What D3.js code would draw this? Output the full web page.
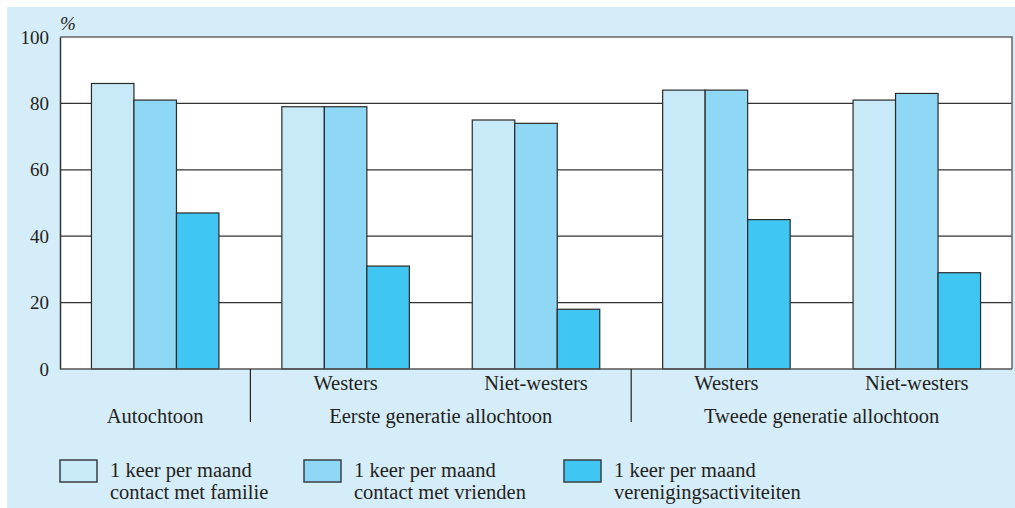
<!DOCTYPE html>
<html><head><meta charset="utf-8">
<script src="https://cdn.jsdelivr.net/npm/d3@7"></script>
<style>body{margin:0;background:#fff}svg{display:block}text{font-family:"Liberation Serif","Times New Roman",serif;fill:#231f20}</style>
</head><body>
<script>
const groups = ["Autochtoon","Westers 1","Niet-westers 1","Westers 2","Niet-westers 2"];
const subLabels = ["", "Westers", "Niet-westers", "Westers", "Niet-westers"];
const seriesNames = ["1 keer per maand|contact met familie","1 keer per maand|contact met vrienden","1 keer per maand|verenigingsactiviteiten"];
const familie = [86, 79, 75, 84, 81];
const vrienden = [81, 79, 74, 84, 83];
const vereniging = [47, 31, 18, 45, 29];
const yTicks = [0, 20, 40, 60, 80, 100];
const colors = ["#c8e9f8", "#8fd8f5", "#40c6f2"];
const superGroups = [{label:"Autochtoon", from:0, to:0},{label:"Eerste generatie allochtoon", from:1, to:2},{label:"Tweede generatie allochtoon", from:3, to:4}];

const W=1015,H=508;
const svg=d3.select("body").append("svg").attr("width",W).attr("height",H);
svg.append("rect").attr("x",7).attr("y",7).attr("width",W-7).attr("height",H-7).attr("fill","#d5ecf9");
const L=60,R=1012,T=37,B=369;
const x=d3.scaleBand().domain(groups).range([L,R]).padding(0);
const series=[familie,vrienden,vereniging];
const xi=d3.scaleBand().domain([0,1,2]).range([0,x.bandwidth()]).paddingOuter(0.74).paddingInner(0);
const y=d3.scaleLinear().domain([0,100]).range([B,T]);
svg.append("rect").attr("x",L).attr("y",T).attr("width",R-L).attr("height",B-T).attr("fill","#fff");
// grid
svg.append("g").selectAll("line").data(yTicks.filter(d=>d>0&&d<100)).join("line")
 .attr("x1",L).attr("x2",R).attr("y1",d=>y(d)).attr("y2",d=>y(d)).attr("stroke","#333").attr("stroke-width",1.2);
// frame top/right
svg.append("path").attr("d",`M${L},${y(100)}H${R}V${B}`).attr("fill","none").attr("stroke","#666").attr("stroke-width",1.5);
// bars
series.forEach((s,si)=>{
 svg.append("g").selectAll("rect").data(s).join("rect")
  .attr("x",(d,i)=>x(groups[i])+xi(si)).attr("y",d=>y(d)).attr("width",xi.bandwidth()).attr("height",d=>y(0)-y(d))
  .attr("fill",colors[si]).attr("stroke","#2a2a2a").attr("stroke-width",1.2);
});
// axes
const ya=d3.axisLeft(y).tickValues(yTicks).tickSize(0).tickPadding(11);
const g=svg.append("g").attr("transform",`translate(${L},0)`).call(ya);
g.select(".domain").attr("stroke","#333").attr("stroke-width",1.5);
g.selectAll("text").style("font-size","19px").style("font-family","'Liberation Serif',serif").attr("fill","#231f20");
svg.append("line").attr("x1",L).attr("x2",R).attr("y1",B).attr("y2",B).attr("stroke","#555").attr("stroke-width",1.5);
svg.append("text").attr("x",60).attr("y",30).attr("font-size",19).attr("font-style","italic").text("%");
// sub labels
svg.append("g").selectAll("text").data(subLabels).join("text")
 .attr("x",(d,i)=>x(groups[i])+x.bandwidth()/2).attr("y",390).attr("text-anchor","middle").attr("font-size",20.5).text(d=>d);
svg.append("g").selectAll("text").data(superGroups).join("text")
 .attr("x",d=>(x(groups[d.from])+x(groups[d.to])+x.bandwidth())/2).attr("y",423).attr("text-anchor","middle").attr("font-size",20.5).text(d=>d.label);
// separators
svg.append("g").selectAll("line").data([1,3]).join("line")
 .attr("x1",d=>x(groups[d])).attr("x2",d=>x(groups[d])).attr("y1",B).attr("y2",422).attr("stroke","#222").attr("stroke-width",1.2);
// legend
const lx=[60,304,564];
seriesNames.forEach((n,i)=>{
 svg.append("rect").attr("x",lx[i]).attr("y",460).attr("width",37).attr("height",22).attr("fill",colors[i]).attr("stroke","#3a3f44").attr("stroke-width",1.5);
 const t=svg.append("text").attr("font-size",20.5);
 n.split("|").forEach((p,j)=>t.append("tspan").attr("x",lx[i]+50).attr("y",477+j*22).text(p));
});
</script>
</body></html>
